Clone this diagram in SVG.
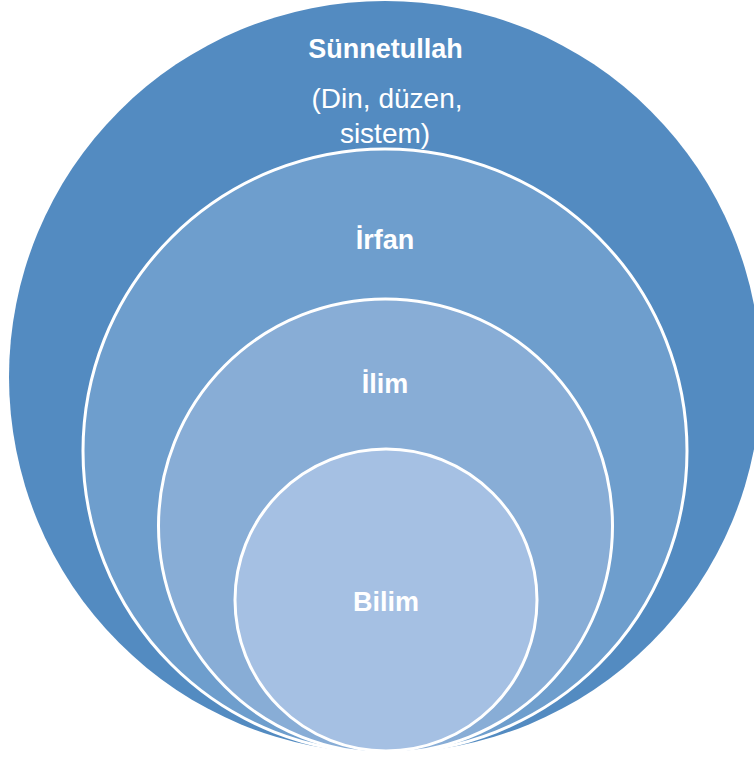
<svg xmlns="http://www.w3.org/2000/svg" width="754" height="758" viewBox="0 0 754 758">
<style>
.c{stroke:#FFFFFF;stroke-width:3}
.b{font-family:"Liberation Sans",Arial,sans-serif;font-weight:bold;font-size:27px;fill:#FFFFFF;text-anchor:middle}
.r{font-family:"Liberation Sans",Arial,sans-serif;font-size:28px;fill:#FFFFFF;text-anchor:middle}
</style>
<rect width="754" height="758" fill="#FFFFFF"/>
<g id="sunnetullah">
<circle cx="385" cy="377" r="376" fill="#538BC1"/>
<text class="b" x="385.5" y="58">Sünnetullah</text>
<text class="r" x="387" y="108">(Din, düzen,</text>
<text class="r" x="385" y="143">sistem)</text>
</g>
<g id="irfan">
<circle class="c" cx="385" cy="451" r="302" fill="#6E9ECD"/>
<text class="b" x="385" y="249">İrfan</text>
</g>
<g id="ilim">
<circle class="c" cx="385.5" cy="526" r="227" fill="#88ADD6"/>
<text class="b" x="385" y="393">İlim</text>
</g>
<g id="bilim">
<circle class="c" cx="386" cy="600" r="151" fill="#A5C0E3"/>
<text class="b" x="386" y="611">Bilim</text>
</g>
<g id="connectors"/>
</svg>
